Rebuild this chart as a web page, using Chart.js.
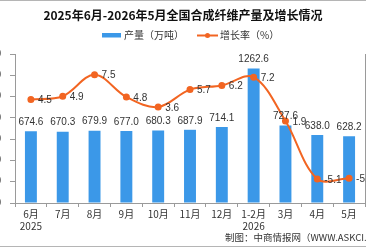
<!DOCTYPE html>
<html lang="zh">
<head>
<meta charset="UTF-8" />
<title>合成纤维产量</title>
<script src="https://cdn.jsdelivr.net/npm/chart.js"></script>
<style>
  html,body{margin:0;padding:0;background:#fff;overflow:hidden;width:366px;height:248px;position:relative}
  #c{position:absolute;left:-30px;top:0}
</style>
</head>
<body>
<canvas id="c" width="426" height="248"></canvas>
<script>
// data
const months=[['6月','2025'],'7月','8月','9月','10月','11月','12月',['1-2月','2026'],'3月','4月','5月'];
const output=[674.6,670.3,679.9,677.0,680.3,687.9,714.1,1262.6,727.6,638.0,628.2];
const growth=[4.5,4.9,7.5,4.8,3.6,5.7,6.2,7.2,1.9,-5.1,-5.0];
const leftTicks={min:0,max:1400,step:200};
const rightTicks={min:-8,max:10,step:2};

const OFF=30; // canvas hangs out of the window on both sides (cropped look)
const FONT='"Noto Sans CJK SC","DejaVu Sans",sans-serif';
const BLUE='#3b98e8', ORANGE='#f26522', AXIS='#9a9a9a';

const extras={
  id:'extras',
  afterDatasetsDraw(ch){
    const c=ch.ctx;
    c.save();
    c.font='10px "Liberation Sans",sans-serif';
    c.fillStyle='#333';
    // bar labels
    c.textAlign='center';c.textBaseline='bottom';
    ch.getDatasetMeta(1).data.forEach((b,i)=>{
      c.fillText(output[i].toFixed(1),b.x,b.y-4);
    });
    // line labels
    c.textAlign='left';c.textBaseline='middle';
    ch.getDatasetMeta(0).data.forEach((p,i)=>{
      c.fillText(growth[i].toFixed(1),p.x+7,p.y+1);
    });
    c.restore();
  },
  afterDraw(ch){
    const c=ch.ctx;
    c.save();
    // legend
    const lx=OFF;
    c.fillStyle=BLUE;c.fillRect(lx+102,33,19,4.5);
    c.font='10px '+FONT;c.fillStyle='#333';c.textBaseline='middle';c.textAlign='left';
    c.fillText('产量（万吨）',lx+124,35.5);
    c.strokeStyle=ORANGE;c.lineWidth=2;
    c.beginPath();c.moveTo(lx+197,35.5);c.lineTo(lx+218,35.5);c.stroke();
    c.fillStyle=ORANGE;c.beginPath();c.arc(lx+207.5,35.5,2.5,0,Math.PI*2);c.fill();
    c.fillStyle='#333';c.fillText('增长率（%）',lx+220,35.5);
    // source
    c.font='9.5px '+FONT;
    c.fillText('制图：中商情报网（WWW.ASKCI.COM）',lx+225,237);
    // frame lines
    c.strokeStyle='#b5b5b5';c.lineWidth=1;
    c.beginPath();c.moveTo(0,0.5);c.lineTo(ch.width,0.5);c.stroke();
    c.beginPath();c.moveTo(0,246.5);c.lineTo(ch.width,246.5);c.stroke();
    c.restore();
  }
};

new Chart(document.getElementById('c'),{
  data:{
    labels:months,
    datasets:[
      {type:'line',label:'增长率（%）',data:growth,yAxisID:'y1',borderColor:ORANGE,backgroundColor:ORANGE,
       borderWidth:2,pointRadius:2.5,pointHoverRadius:2.5,tension:0.35,order:0},
      {type:'bar',label:'产量（万吨）',data:output,yAxisID:'y',backgroundColor:BLUE,
       categoryPercentage:1,barPercentage:0.375,order:1}
    ]
  },
  options:{
    responsive:false,animation:false,devicePixelRatio:1,
    layout:{padding:0},
    plugins:{
      legend:{display:false},tooltip:{enabled:false},
      title:{display:true,text:'2025年6月-2026年5月全国合成纤维产量及增长情况',color:'#111',
        font:{family:FONT,size:12,weight:'bold'},padding:{top:8,bottom:31.6}}
    },
    scales:{
      x:{
        grid:{drawOnChartArea:false,drawTicks:true,tickLength:4,color:AXIS,offset:true},
        border:{display:true,color:AXIS},
        ticks:{color:'#333',font:{family:FONT,size:10},padding:1,maxRotation:0,autoSkip:false},
        afterFit(s){s.height=45;}
      },
      y:{
        position:'left',min:leftTicks.min,max:leftTicks.max,
        grid:{drawOnChartArea:false,drawTicks:true,tickLength:5,color:AXIS},
        border:{display:true,color:AXIS},
        ticks:{stepSize:leftTicks.step,color:'#333',font:{family:'"Liberation Sans",sans-serif',size:10},padding:9},
        afterFit(s){s.width=OFF+15;}
      },
      y1:{
        position:'right',min:rightTicks.min,max:rightTicks.max,
        grid:{display:false},
        border:{display:true,color:AXIS},
        ticks:{stepSize:rightTicks.step,color:'#333',font:{family:'"Liberation Sans",sans-serif',size:10},padding:6},
        afterFit(s){s.width=OFF+1;}
      }
    }
  },
  plugins:[extras]
});
</script>
</body>
</html>
